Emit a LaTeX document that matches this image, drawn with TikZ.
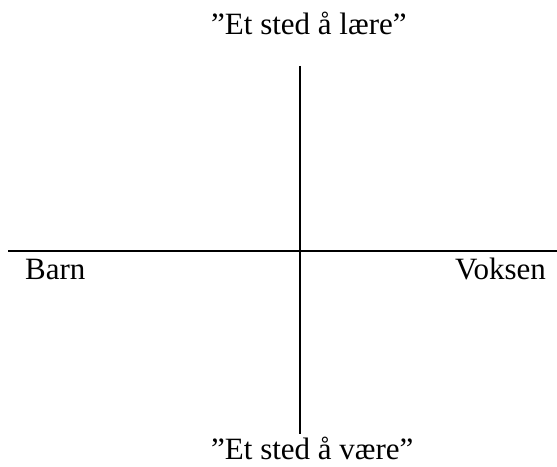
\documentclass[tikz,border=0pt]{standalone}
\usepackage{fontspec}
\setmainfont{Liberation Serif}
\begin{document}
\begin{tikzpicture}[x=1pt,y=1pt,
  lbl/.style={inner sep=0pt,font=\fontsize{31}{36}\selectfont},
  axis/.style={line width=2pt}]
\useasboundingbox (0,0) rectangle (557,466);
\coordinate (vtop) at (300,400);
\coordinate (vbot) at (300,32);
\coordinate (hl) at (8,215);
\coordinate (hr) at (557,215);
\draw[axis] (vtop) -- (vbot);
\draw[axis] (hl) -- (hr);
\node[lbl,anchor=base west] (top) at (211,431) {”Et sted å lære”};
\node[lbl,anchor=base west,text depth=0pt] (bot) at (211,6) {”Et sted å være”};
\node[lbl,anchor=base west] (barn) at (25,186) {Barn};
\node[lbl,anchor=base east] (voksen) at (546,186) {Voksen};
\end{tikzpicture}
\end{document}
